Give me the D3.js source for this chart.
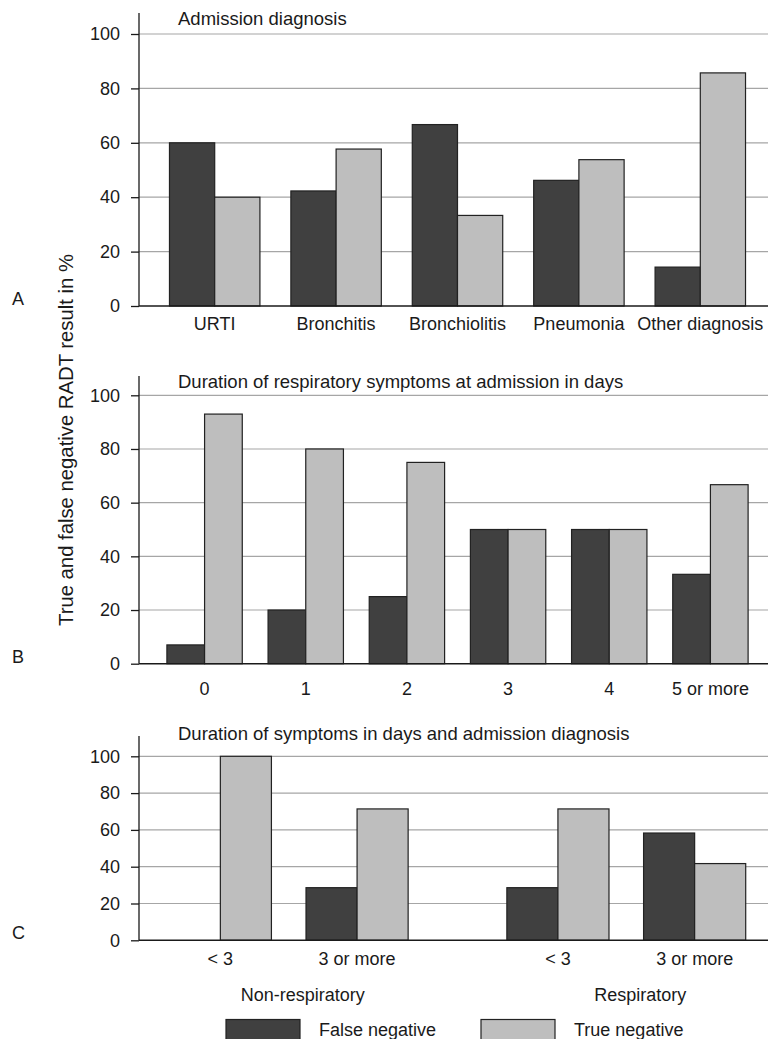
<!DOCTYPE html>
<html>
<head>
<meta charset="utf-8">
<script src="https://cdn.jsdelivr.net/npm/d3@7"></script>
<style>
  body { margin: 0; background: #fff; }
  svg { display: block; font-family: "Liberation Sans", Arial, sans-serif; }
  text { fill: #1a1a1a; }
</style>
</head>
<body>
<svg id="chart" width="768" height="1039"></svg>
<script>
// data (percent)
const seriesKeys = ["False negative", "True negative"];
const seriesColors = ["#404040", "#bebebe"];
const yTicks = [0, 20, 40, 60, 80, 100];

const diagnosisLabels = ["URTI", "Bronchitis", "Bronchiolitis", "Pneumonia", "Other diagnosis"];
const diagnosisFalseNeg = [60, 42.3, 66.7, 46.2, 14.3];
const diagnosisTrueNeg = [40, 57.7, 33.3, 53.8, 85.7];

const durationLabels = ["0", "1", "2", "3", "4", "5 or more"];
const durationFalseNeg = [7, 20, 25, 50, 50, 33.3];
const durationTrueNeg = [93, 80, 75, 50, 50, 66.7];

const groupLabels = ["Non-respiratory", "Respiratory"];
const groupDurations = ["< 3", "3 or more"];
const groupFalseNeg = [[0, 28.6], [28.6, 58.3]];
const groupTrueNeg = [[100, 71.4], [71.4, 41.7]];

const svg = d3.select("#chart");
const axisX = 139, rightEdge = 768;

// draws gridlines, y axis ticks and panel text
function frame(y, top, title, letter) {
  const g = svg.append("g");
  g.selectAll("line.grid")
    .data(yTicks.filter(d => d > 0))
    .join("line")
    .attr("x1", axisX).attr("x2", rightEdge)
    .attr("y1", d => y(d)).attr("y2", d => y(d))
    .attr("stroke", "#a6a6a6")
    .attr("stroke-width", 1.2);

  const ax = g.append("g")
    .attr("transform", `translate(${axisX},0)`)
    .call(d3.axisLeft(y).tickValues(yTicks).tickSize(8).tickPadding(11));
  ax.select(".domain").remove();
  ax.selectAll(".tick line").attr("stroke", "#1a1a1a").attr("stroke-width", 1.3);
  ax.selectAll(".tick text")
    .attr("font-size", 18)
    .attr("font-family", "Liberation Sans, Arial, sans-serif")
    .attr("fill", "#1a1a1a");

  g.append("text")
    .attr("x", 178).attr("y", top + 12)
    .attr("font-size", 18.5)
    .text(title);

  g.append("text")
    .attr("x", 12).attr("y", y(0) - 1)
    .attr("font-size", 18)
    .text(letter);
  return g;
}

function axisLines(y, top) {
  svg.append("line")
    .attr("x1", axisX).attr("x2", axisX)
    .attr("y1", top).attr("y2", y(0))
    .attr("stroke", "#1a1a1a").attr("stroke-width", 1.3);
  svg.append("line")
    .attr("x1", axisX).attr("x2", rightEdge)
    .attr("y1", y(0)).attr("y2", y(0))
    .attr("stroke", "#1a1a1a").attr("stroke-width", 1.6);
}

function bars(sel, rows, x, inner, y) {
  sel.selectAll("rect")
    .data(rows.filter(d => d.value > 0))
    .join("rect")
    .attr("x", d => x + inner(d.key))
    .attr("width", inner.bandwidth())
    .attr("y", d => y(d.value))
    .attr("height", d => y(0) - y(d.value))
    .attr("fill", d => seriesColors[seriesKeys.indexOf(d.key)])
    .attr("stroke", "#222")
    .attr("stroke-width", 1.2);
}

// panel A / B: simple grouped bars
function groupedPanel(labels, fn, tn, yRange, top, title, letter, labelY) {
  const y = d3.scaleLinear().domain([0, 100]).range(yRange);
  frame(y, top, title, letter);
  const x = d3.scaleBand().domain(labels).range([154, 761])
    .paddingInner(0.255).paddingOuter(0.1275);
  const inner = d3.scaleBand().domain(seriesKeys).range([0, x.bandwidth()]);

  labels.forEach((lab, i) => {
    const g = svg.append("g");
    bars(g, [{key: seriesKeys[0], value: fn[i]}, {key: seriesKeys[1], value: tn[i]}], x(lab), inner, y);
    svg.append("text")
      .attr("x", x(lab) + x.bandwidth() / 2)
      .attr("y", labelY)
      .attr("text-anchor", "middle")
      .attr("font-size", 18)
      .text(lab);
  });
  axisLines(y, top);
}

groupedPanel(diagnosisLabels, diagnosisFalseNeg, diagnosisTrueNeg, [306, 34], 13,
  "Admission diagnosis", "A", 330);
groupedPanel(durationLabels, durationFalseNeg, durationTrueNeg, [663.7, 395.3], 376,
  "Duration of respiratory symptoms at admission in days", "B", 695);

// panel C: nested groups
{
  const top = 736;
  const y = d3.scaleLinear().domain([0, 100]).range([940.3, 756.3]);
  frame(y, top - 8, "Duration of symptoms in days and admission diagnosis", "C");
  const outer = d3.scaleBand().domain(groupLabels).range([152, 763])
    .paddingInner(0.19).paddingOuter(0);
  const mid = d3.scaleBand().domain(groupDurations).range([0, outer.bandwidth()])
    .paddingInner(0.253).paddingOuter(0.1265);
  const inner = d3.scaleBand().domain(seriesKeys).range([0, mid.bandwidth()]);

  groupLabels.forEach((grp, gi) => {
    groupDurations.forEach((dur, di) => {
      const x0 = outer(grp) + mid(dur);
      bars(svg.append("g"),
        [{key: seriesKeys[0], value: groupFalseNeg[gi][di]}, {key: seriesKeys[1], value: groupTrueNeg[gi][di]}],
        x0, inner, y);
      svg.append("text")
        .attr("x", x0 + mid.bandwidth() / 2)
        .attr("y", 965)
        .attr("text-anchor", "middle")
        .attr("font-size", 18)
        .text(dur);
    });
    svg.append("text")
      .attr("x", outer(grp) + outer.bandwidth() / 2 + 14)
      .attr("y", 1001)
      .attr("text-anchor", "middle")
      .attr("font-size", 18)
      .text(grp);
  });
  axisLines(y, top);
}

// shared y label
svg.append("text")
  .attr("transform", "translate(73,440) rotate(-90)")
  .attr("text-anchor", "middle")
  .attr("font-size", 20.3)
  .text("True and false negative RADT result in %");

// legend
const legendX = [226, 481];
seriesKeys.forEach((k, i) => {
  svg.append("rect")
    .attr("x", legendX[i]).attr("y", 1019.5)
    .attr("width", 74).attr("height", 24)
    .attr("fill", seriesColors[i])
    .attr("stroke", "#222").attr("stroke-width", 1.2);
  svg.append("text")
    .attr("x", legendX[i] + 93).attr("y", 1036)
    .attr("font-size", 18)
    .text(k);
});
</script>
</body>
</html>
